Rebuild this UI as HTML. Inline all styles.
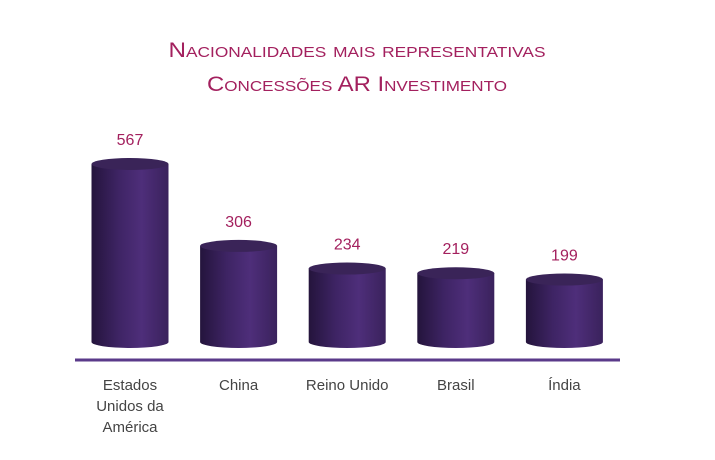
<!DOCTYPE html>
<html><head><meta charset="utf-8"><style>
body{margin:0;background:#fff}
svg{display:block;font-family:"Liberation Sans",sans-serif}
</style></head><body>
<svg width="715" height="460">
<defs>
<linearGradient id="body" x1="0" x2="1" y1="0" y2="0">
<stop offset="0" stop-color="#24143c"/><stop offset="0.35" stop-color="#3e2464"/>
<stop offset="0.65" stop-color="#4e2e7a"/><stop offset="1" stop-color="#3a225c"/>
</linearGradient>
</defs>
<g fill="#a3205e" font-size="21" style="font-variant:small-caps" text-anchor="middle">
<text x="357" y="57" textLength="377" lengthAdjust="spacingAndGlyphs">Nacionalidades mais representativas</text>
<text x="357" y="91" textLength="300" lengthAdjust="spacingAndGlyphs">Concessões AR Investimento</text>
</g>
<g id="bars"></g>
<line x1="75" x2="620" y1="360" y2="360" stroke="#5a3a8a" stroke-width="3"/>
<g id="labels" font-size="15" fill="#444" text-anchor="middle"></g>
<script>
const categories=[["Estados","Unidos da","América"],["China"],["Reino Unido"],["Brasil"],["Índia"]];
const values=[567,306,234,219,199];
const base=342, scale=(342-164)/567, x0=130, step=108.6, w=77, ry=6;
const ns="http://www.w3.org/2000/svg";
const bars=document.getElementById('bars'), labels=document.getElementById('labels');
function xPos(i){return x0+i*step;}
function yPos(v){return base-v*scale;}
values.forEach((v,i)=>{
  const cx=xPos(i), top=yPos(v);
  const g=document.createElementNS(ns,'g');
  
  
  const p=document.createElementNS(ns,'path');
  p.setAttribute('d',`M${cx-w/2},${top} L${cx-w/2},${base} A${w/2},${ry} 0 0 0 ${cx+w/2},${base} L${cx+w/2},${top} Z`);
  p.setAttribute('fill','url(#body)');
  g.appendChild(p);
  const e=document.createElementNS(ns,'ellipse');
  e.setAttribute('cx',cx);e.setAttribute('cy',top);e.setAttribute('rx',w/2);e.setAttribute('ry',ry);
  e.setAttribute('fill','#3a2458');
  g.appendChild(e);
  bars.appendChild(g);
  const t=document.createElementNS(ns,'text');
  
  
  t.setAttribute('x',cx);t.setAttribute('y',top-19);
  t.setAttribute('text-anchor','middle');t.setAttribute('font-size','16');t.setAttribute('fill','#a3205e');
  t.textContent=v;
  bars.appendChild(t);
  categories[i].forEach((line,j)=>{
    const c=document.createElementNS(ns,'text');
    
    
    c.setAttribute('x',cx);c.setAttribute('y',390+j*21);
    c.textContent=line;
    labels.appendChild(c);
  });
});
</script>
</svg>
</body></html>
